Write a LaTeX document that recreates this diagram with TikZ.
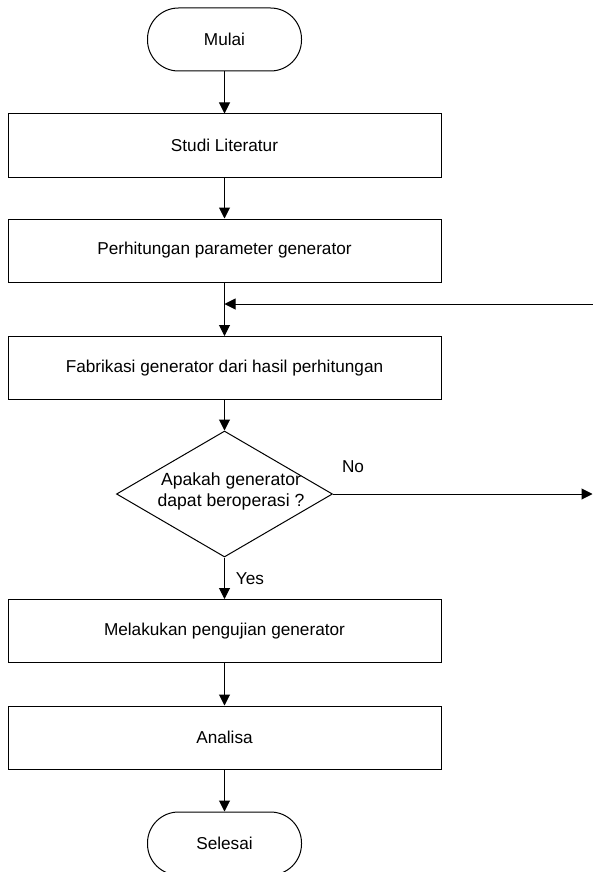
\documentclass[tikz,border=0pt]{standalone}
\usepackage{fontspec}
\setmainfont{Liberation Sans}
\usetikzlibrary{arrows.meta,shapes.geometric,calc}
\begin{document}
\begin{tikzpicture}[x=1pt,y={(0pt,-1pt)},
  every node/.style={font=\fontsize{17.2}{21}\selectfont},
  procbox/.style={draw=black,line width=1pt,minimum width=433pt,minimum height=63pt,inner sep=0pt},
  termbox/.style={draw=black,line width=1pt,minimum width=154pt,minimum height=63pt,rounded corners=31pt,inner sep=0pt},
  decbox/.style={draw=black,line width=1pt,shape=diamond,minimum width=216pt,minimum height=126pt,inner sep=0pt},
  arr/.style={draw=black,line width=1pt,-{Triangle[length=11pt,width=11pt]}},
  lbl/.style={inner sep=0pt}]
\useasboundingbox (0,0) rectangle (593,872);
\clip (0,0) rectangle (593,872);
\node[termbox] (mulai) at (224.5,39.5) {Mulai};
\node[procbox] (studi) at (224.5,145.5) {Studi Literatur};
\node[procbox] (perh) at (224.5,250.5) {Perhitungan parameter generator};
\node[procbox] (fabr) at (224.5,368) {Fabrikasi generator dari hasil perhitungan};
\node[decbox] (dec) at (224.5,494) {};
\node[lbl,align=center,font=\fontsize{17.6}{21}\selectfont] (dectext) at (231,491.5) {Apakah generator\\dapat beroperasi ?};
\node[procbox] (uji) at (224.5,631) {Melakukan pengujian generator};
\node[procbox] (anal) at (224.5,737.5) {Analisa};
\node[termbox] (selesai) at (224.5,843.5) {Selesai};
\node[lbl] (nolbl) at (353,467) {No};
\node[lbl] (yeslbl) at (250,579) {Yes};
\coordinate (fbR) at (593,304);
\coordinate (noEnd) at (592.5,494);
\draw[arr] (mulai) -- (studi);
\draw[arr] (studi) -- (perh);
\draw[arr] (perh) -- (fabr);
\draw[arr] (fbR) -- (fbR -| perh.south);
\draw[arr] (fabr) -- (dec.north);
\draw[arr] (dec.east) -- (noEnd);
\draw[arr] (dec.south) -- (uji);
\draw[arr] (uji) -- (anal);
\draw[arr] (anal) -- (selesai);
\end{tikzpicture}
\end{document}
